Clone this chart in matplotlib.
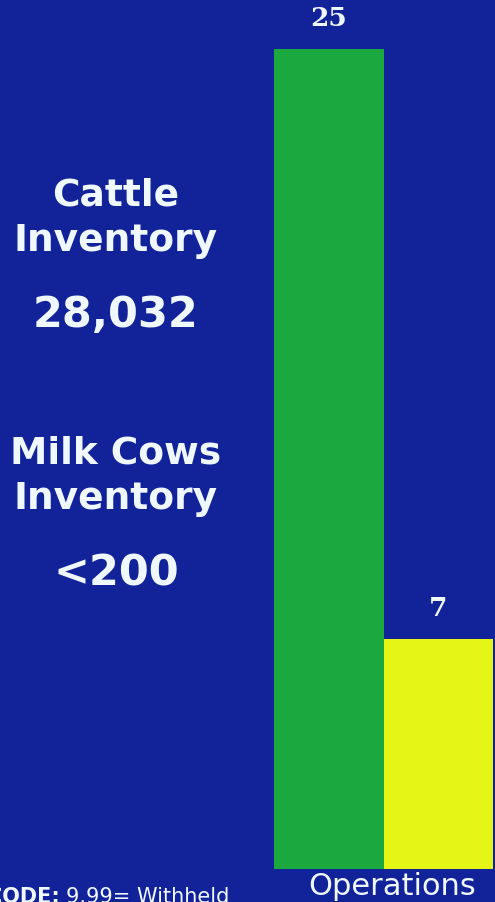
import matplotlib.pyplot as plt

# data
categories = ['Cattle', 'Milk Cows']
operations = [25, 7]
bar_colors = ['#1BA83F', '#E5F516']
inventory_labels = ['Cattle\nInventory', 'Milk Cows\nInventory']
inventory_values = ['28,032', '<200']

bg = '#12239A'
txt = '#F0F8FF'

fig = plt.figure(figsize=(4.95, 9.02), dpi=100, facecolor=bg)

# bar axes: bars span x 274..493 px, baseline at y=869, 25 -> y=49
ax = fig.add_axes([274/495, 33/902, 219/495, 820/902])
ax.set_facecolor(bg)
ax.bar(range(len(operations)), operations, width=1.0, color=bar_colors,
       edgecolor='none')
ax.set_xlim(-0.5, 1.5)
ax.set_ylim(0, 25)
ax.axis('off')

for i, v in enumerate(operations):
    ax.annotate(str(v), (i, v), xytext=(0, 13), textcoords='offset points',
                ha='center', va='bottom', color=txt, fontsize=19,
                fontweight='bold', family='DejaVu Serif')

fig.text(392/495, 1 - 895/902, 'Operations', ha='center', va='baseline',
         color=txt, fontsize=22)

# left side text blocks
for k, (lab, val) in enumerate(zip(inventory_labels, inventory_values)):
    off = k * 258
    fig.text(116/495, 1 - (251 + off)/902, lab, ha='center', va='baseline',
             color=txt, fontsize=27, fontweight='bold', linespacing=1.33,
             multialignment='center')
    fig.text(116/495, 1 - (327 + off)/902, val, ha='center', va='baseline',
             color=txt, fontsize=31, fontweight='bold')

# footnote (clipped at left edge)
fig.text(60/495, 1 - 903/902, 'CODE:', ha='right', va='baseline',
         color=txt, fontsize=15, fontweight='bold')
fig.text(66/495, 1 - 903/902, '9.99= Withheld', ha='left', va='baseline',
         color=txt, fontsize=15)

fig.savefig('out.png', dpi=100, facecolor=bg)
